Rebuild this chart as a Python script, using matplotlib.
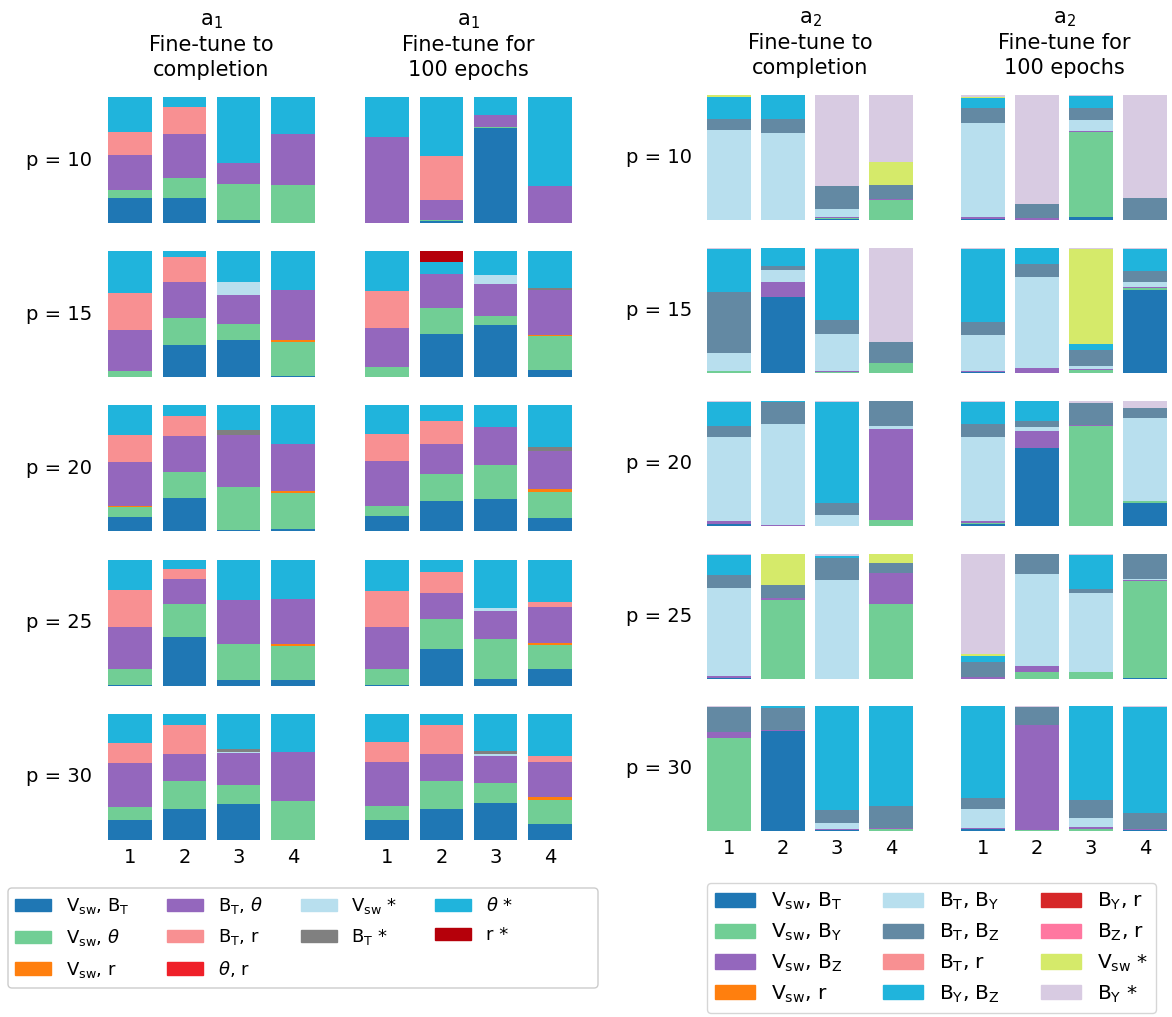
import matplotlib.pyplot as plt
import matplotlib.patches as mpatches
import matplotlib.transforms as mtransforms
import numpy as np

# feature-pair importance shares (%), one row per bar, rows grouped by p
p_values = [10, 15, 20, 25, 30]
bar_ticks = ['1', '2', '3', '4']

a1_labels = [r'V$_{\rm sw}$, B$_{\rm T}$', r'V$_{\rm sw}$, $\theta$', r'V$_{\rm sw}$, r',
             r'B$_{\rm T}$, $\theta$', r'B$_{\rm T}$, r', r'$\theta$, r',
             r'V$_{\rm sw}$ *', r'B$_{\rm T}$ *', r'$\theta$ *', r'r *']
a1_colors = ['#1f77b4', '#71ce95', '#ff7f0e', '#9467bd', '#f89092', '#ef2029',
             '#b8dfee', '#808080', '#20b4dc', '#b5000a']

a2_labels = [r'V$_{\rm sw}$, B$_{\rm T}$', r'V$_{\rm sw}$, B$_{\rm Y}$', r'V$_{\rm sw}$, B$_{\rm Z}$',
             r'V$_{\rm sw}$, r', r'B$_{\rm T}$, B$_{\rm Y}$', r'B$_{\rm T}$, B$_{\rm Z}$',
             r'B$_{\rm T}$, r', r'B$_{\rm Y}$, B$_{\rm Z}$', r'B$_{\rm Y}$, r',
             r'B$_{\rm Z}$, r', r'V$_{\rm sw}$ *', r'B$_{\rm Y}$ *']
a2_colors = ['#1f77b4', '#71ce95', '#9467bd', '#ff7f0e', '#b8dfee', '#6389a3',
             '#f89092', '#20b4dc', '#d62728', '#ff77a0', '#d5ea6a', '#d8cbe2']

a1_complete = [
    [[20.0, 6.4, 0, 27.2, 18.7, 0, 0, 0, 27.7, 0],
     [19.8, 15.9, 0, 34.9, 21.4, 0, 0, 0, 7.9, 0],
     [2.4, 28.6, 0, 16.7, 0, 0, 0, 0, 52.4, 0],
     [0, 30.2, 0, 40.7, 0, 0, 0, 0, 29.1, 0]],
    [[0, 4.8, 0, 32.5, 29.4, 0, 0, 0, 33.3, 0],
     [25.4, 21.4, 0, 28.6, 19.8, 0, 0, 0, 4.8, 0],
     [29.4, 12.7, 0, 23.0, 0, 0, 10.3, 0, 24.6, 0],
     [0.8, 27.0, 1.6, 39.7, 0, 0, 0, 0, 31.0, 0]],
    [[11.0, 7.9, 0.8, 35.4, 21.3, 0, 0, 0, 23.6, 0],
     [26.4, 20.8, 0, 28.0, 16.0, 0, 0, 0, 8.8, 0],
     [0.8, 33.9, 0, 41.7, 0, 0, 0, 3.4, 20.2, 0],
     [1.6, 28.8, 1.6, 37.0, 0, 0, 0, 0, 31.0, 0]],
    [[0.8, 12.7, 0, 33.3, 29.4, 0, 0, 0, 23.8, 0],
     [38.9, 26.2, 0, 19.8, 7.9, 0, 0, 0, 7.1, 0],
     [4.8, 28.6, 0, 34.9, 0, 0, 0, 0, 31.7, 0],
     [4.8, 27.0, 1.6, 36.0, 0, 0, 0, 0, 30.7, 0]],
    [[15.9, 10.3, 0, 34.9, 15.9, 0, 0, 0, 23.0, 0],
     [24.6, 22.2, 0, 21.4, 23.0, 0, 0, 0, 8.7, 0],
     [28.6, 15.1, 0, 25.4, 0, 0, 1.1, 2.4, 27.5, 0],
     [0, 31.0, 0, 38.9, 0, 0, 0, 0, 30.2, 0]],
]

a1_100ep = [
    [[0, 0, 0, 68.3, 0, 0, 0, 0, 31.7, 0],
     [1.6, 0.8, 0, 15.9, 34.9, 0, 0, 0, 46.8, 0],
     [75.4, 0.8, 0, 9.5, 0, 0, 0, 0, 14.3, 0],
     [0, 0, 0, 29.4, 0, 0, 0, 0, 70.6, 0]],
    [[0, 7.9, 0, 31.0, 29.4, 0, 0, 0, 31.7, 0],
     [34.1, 20.6, 0, 27.0, 0, 0, 0, 0, 9.5, 8.7],
     [41.3, 7.1, 0, 25.4, 0, 0, 7.1, 0, 19.0, 0],
     [5.6, 27.0, 1.1, 35.4, 0, 0, 0, 1.6, 29.4, 0]],
    [[11.9, 7.9, 0, 35.7, 21.4, 0, 0, 0, 23.0, 0],
     [24.0, 21.6, 0, 23.2, 18.4, 0, 0, 0, 12.8, 0],
     [25.2, 26.8, 0, 30.7, 0, 0, 0, 0, 17.3, 0],
     [10.4, 20.8, 2.4, 29.6, 0, 0, 0, 3.2, 33.6, 0]],
    [[0.8, 12.7, 0, 33.3, 28.6, 0, 0, 0, 24.6, 0],
     [29.4, 23.8, 0, 20.6, 16.7, 0, 0, 0, 9.5, 0],
     [5.6, 31.7, 0, 22.2, 0, 0, 2.4, 0, 38.1, 0],
     [13.5, 19.3, 1.6, 28.3, 4.0, 0, 0, 0, 33.3, 0]],
    [[15.9, 11.1, 0, 34.9, 15.9, 0, 0, 0, 22.2, 0],
     [24.6, 22.2, 0, 21.4, 23.0, 0, 0, 0, 8.7, 0],
     [29.4, 15.9, 0, 21.4, 0, 0, 1.6, 2.4, 29.4, 0],
     [12.7, 19.0, 2.4, 27.8, 4.8, 0, 0, 0, 33.3, 0]],
]

a2_complete = [
    [[0, 0, 0, 0, 72.0, 8.8, 0, 17.6, 0, 0, 1.6, 0],
     [0, 0, 0, 0, 69.6, 11.2, 0, 19.2, 0, 0, 0, 0],
     [0.8, 0.8, 0.8, 0, 6.5, 18.5, 0, 0, 0, 0, 0, 72.6],
     [0, 16.1, 0.8, 0, 0, 11.3, 0, 0, 0, 0, 18.5, 53.2]],
    [[0, 1.6, 0, 0, 14.4, 48.8, 0, 34.4, 0, 0, 0, 0.8],
     [60.5, 0, 12.1, 0, 9.7, 3.2, 0, 14.5, 0, 0, 0, 0],
     [0, 0.8, 0.8, 0, 29.6, 11.2, 0, 56.8, 0, 0, 0, 0.8],
     [0, 8.0, 0, 0, 0, 16.8, 0, 0, 0, 0, 0, 75.2]],
    [[1.6, 0, 2.4, 0, 67.2, 8.8, 0, 19.2, 0, 0, 0, 0.8],
     [0, 0, 0.8, 0, 80.8, 17.6, 0, 0.8, 0, 0, 0, 0],
     [0, 0, 0, 0, 8.8, 9.6, 0, 80.8, 0, 0, 0, 0.8],
     [0, 4.8, 72.8, 0, 2.4, 20.0, 0, 0, 0, 0, 0, 0]],
    [[0.8, 0, 1.6, 0, 70.4, 10.4, 0, 16.0, 0, 0, 0, 0.8],
     [0, 62.9, 1.6, 0, 0, 10.5, 0, 0, 0, 0, 25.0, 0],
     [0, 0, 0, 0, 79.0, 17.7, 0, 1.6, 0, 0, 0, 1.6],
     [0, 59.7, 25.0, 0, 0, 8.1, 0, 0, 0, 0, 7.3, 0]],
    [[0, 74.4, 4.8, 0, 0, 20.0, 0, 0, 0, 0, 0, 0.8],
     [79.8, 0, 0.8, 0, 0, 17.7, 0, 1.6, 0, 0, 0, 0],
     [0.8, 0, 0.8, 0, 4.8, 10.4, 0, 83.2, 0, 0, 0, 0],
     [0, 1.6, 0.8, 0, 0, 17.7, 0, 79.8, 0, 0, 0, 0]],
]

a2_100ep = [
    [[0.8, 0, 1.6, 0, 75.2, 12.0, 0, 8.0, 0, 0, 1.1, 1.3],
     [0, 0, 1.6, 0, 0, 11.3, 0, 0, 0, 0, 0, 87.1],
     [2.4, 67.7, 0.8, 0, 8.9, 9.7, 0, 9.7, 0, 0, 0, 0.8],
     [0, 0, 0, 0, 0, 17.7, 0, 0, 0, 0, 0, 82.3]],
    [[0.8, 0, 0.8, 0, 29.0, 10.5, 0, 58.1, 0, 0, 0, 0.8],
     [0, 0, 4.0, 0, 72.6, 10.5, 0, 12.9, 0, 0, 0, 0],
     [0, 2.4, 0.8, 0, 2.4, 12.8, 0, 4.8, 0, 0, 76.0, 0.8],
     [66.4, 1.6, 0.8, 0, 4.0, 8.8, 0, 17.6, 0, 0, 0, 0.8]],
    [[1.6, 0.8, 1.6, 0, 67.2, 10.4, 0, 17.6, 0, 0, 0, 0.8],
     [62.4, 0, 13.6, 0, 3.2, 4.8, 0, 16.0, 0, 0, 0, 0],
     [0, 80.0, 0.8, 0, 0, 17.6, 0, 0, 0, 0, 0, 1.6],
     [18.4, 1.6, 0, 0, 66.4, 8.0, 0, 0, 0, 0, 0, 5.6]],
    [[0, 0, 1.6, 0, 0, 12.0, 0, 4.8, 0, 0, 1.6, 80.0],
     [0, 5.6, 4.8, 0, 73.6, 16.0, 0, 0, 0, 0, 0, 0],
     [0, 5.6, 0, 0, 62.9, 3.2, 0, 27.4, 0, 0, 0, 0.8],
     [0.8, 77.4, 0.8, 0, 0.8, 20.2, 0, 0, 0, 0, 0, 0]],
    [[1.6, 0, 0.8, 0, 15.2, 8.8, 0, 73.6, 0, 0, 0, 0],
     [0, 0.8, 84.0, 0, 0, 14.4, 0, 0, 0, 0, 0, 0.8],
     [0, 1.6, 1.6, 0, 7.3, 14.5, 0, 75.0, 0, 0, 0, 0],
     [0.8, 0, 0.8, 0, 0, 12.7, 0, 84.9, 0, 0, 0, 0.8]],
]

W, H = 1172, 1017
fig = plt.figure(figsize=(W / 100, H / 100), dpi=100)


def add_px_axes(x0, x1, y_top, y_bot):
    return fig.add_axes([x0 / W, 1 - y_bot / H, (x1 - x0) / W, (y_bot - y_top) / H])


def stacked_bars(ax, shares, colors):
    shares = np.array(shares, dtype=float)
    shares = shares / shares.sum(axis=1, keepdims=True)
    x = np.arange(1, shares.shape[0] + 1)
    bottom = np.zeros(shares.shape[0])
    for k in range(shares.shape[1]):
        if shares[:, k].any():
            ax.bar(x, shares[:, k], bottom=bottom, width=0.8, color=colors[k])
        bottom += shares[:, k]
    ax.set_xlim(0.5, 4.5)
    ax.set_ylim(0, 1)
    ax.set_yticks([])
    for s in ax.spines.values():
        s.set_visible(False)


def draw_panel(columns, titles, x_spans, row_tops, row_h, colors, label_pad):
    for c, (data, title, (x0, x1)) in enumerate(zip(columns, titles, x_spans)):
        for r, top in enumerate(row_tops):
            ax = add_px_axes(x0, x1, top, top + row_h)
            stacked_bars(ax, data[r], colors)
            if r == 0:
                ax.set_title(title, fontsize=15, pad=15, linespacing=1.3)
            if c == 0:
                ax.set_ylabel('p = %d' % p_values[r], rotation=0, fontsize=14,
                              ha='right', va='center', labelpad=label_pad)
            if r == len(row_tops) - 1:
                ax.set_xticks(range(1, 5))
                ax.set_xticklabels(bar_ticks, fontsize=14)
                ax.tick_params(axis='x', length=0, pad=6)
            else:
                ax.set_xticks([])


draw_panel([a1_complete, a1_100ep],
           ['a$_1$\nFine-tune to\ncompletion', 'a$_1$\nFine-tune for\n100 epochs'],
           [(103, 320), (360, 577)], [97, 251, 405, 560, 714], 126, a1_colors, 8)
draw_panel([a2_complete, a2_100ep],
           ['a$_2$\nFine-tune to\ncompletion', 'a$_2$\nFine-tune for\n100 epochs'],
           [(702, 918), (956, 1172)], [95, 248, 401, 554, 706], 125, a2_colors, 7)

# left legend: frame drawn separately so it spans the full panel width
frame = mpatches.FancyBboxPatch((8, H - 988), 590, 100,
                                boxstyle='round,pad=0,rounding_size=4',
                                facecolor='white', edgecolor='0.8', lw=1,
                                transform=mtransforms.IdentityTransform())
fig.add_artist(frame)
fig.legend([mpatches.Patch(color=c) for c in a1_colors], a1_labels,
           loc='upper left', bbox_to_anchor=(8 / W, 1 - 888 / H),
           borderaxespad=0, ncol=4, fontsize=13, labelspacing=0.62,
           columnspacing=2.1, frameon=False)

fig.legend([mpatches.Patch(color=c) for c in a2_colors], a2_labels,
           loc='upper left', bbox_to_anchor=(707 / W, 1 - 883 / H),
           borderaxespad=0, ncol=3, fontsize=14.5, labelspacing=0.47)

fig.savefig('out.png', dpi=100)
